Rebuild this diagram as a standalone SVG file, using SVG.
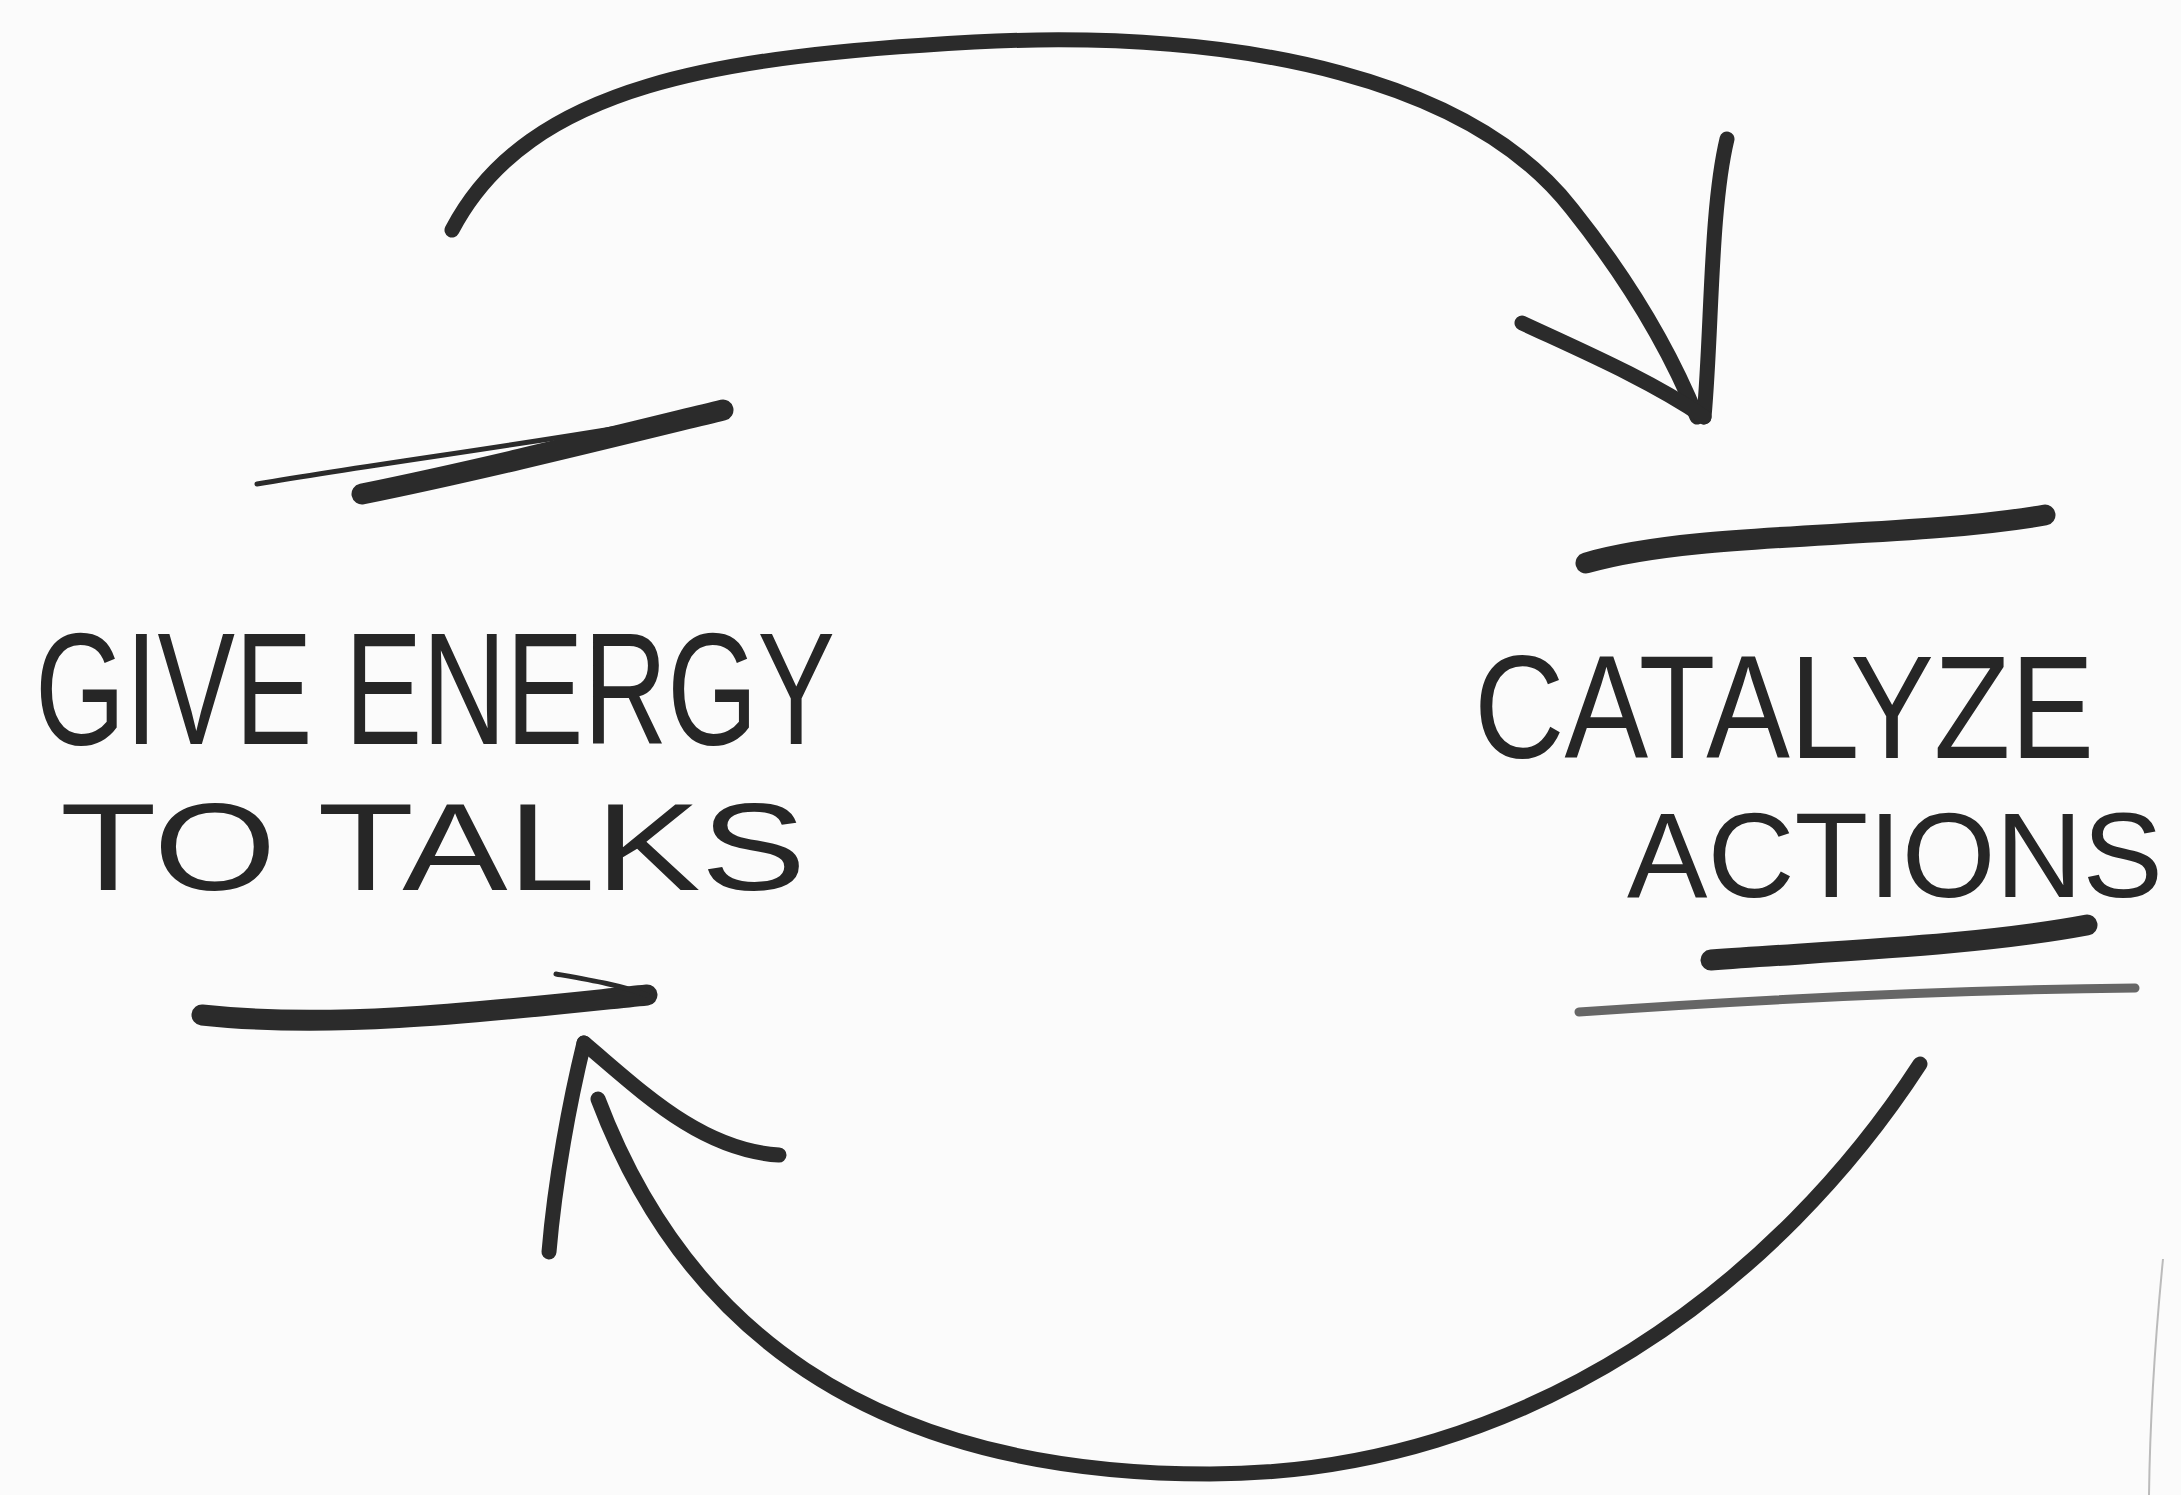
<svg xmlns="http://www.w3.org/2000/svg" width="2181" height="1495" viewBox="0 0 2181 1495">
<style>
.ink{fill:none;stroke:#2b2b2b;stroke-linecap:round;stroke-linejoin:round}
.arc{stroke-width:15}
.bar{stroke-width:21}
.thin{stroke-width:5}
.gray{fill:none;stroke:#666;stroke-linecap:round;stroke-width:9}
.lbl{font-family:"Liberation Sans",Arial,sans-serif;fill:#262626;font-weight:normal}
</style>
<rect width="2181" height="1495" fill="#fbfbfb"/>
<g id="connectors">
<path class="ink arc" d="M452,230 C529,83 723,56 974,42 C1252,28 1474,83 1572,209 C1627,278 1669,348 1697,417"/>
<path class="ink arc" d="M1727,139 C1710,210 1712,330 1704,417"/>
<path class="ink arc" d="M1522,323 C1580,350 1650,380 1704,417"/>
<path class="ink arc" d="M1920,1064 C1780,1280 1530,1474 1210,1474 C862,1474 682,1321 598,1099"/>
<path class="ink arc" d="M549,1252 C555,1180 570,1100 584,1043"/>
<path class="ink arc" d="M584,1043 C640,1090 700,1150 779,1155"/>
<path fill="none" stroke="#bbb" stroke-width="2" d="M2163,1259 C2155,1340 2150,1420 2149,1495"/>
</g>
<g id="node-give-energy">
<path class="ink thin" d="M257,484 C400,460 560,440 723,410"/>
<path class="ink bar" d="M362,494 C480,470 600,440 723,410"/>
<text class="lbl" transform="translate(35,744) scale(1,1.38)" x="0" y="0" font-size="116" textLength="800" lengthAdjust="spacingAndGlyphs">GIVE ENERGY</text>
<text class="lbl" transform="translate(60,890) scale(1,1.0)" x="0" y="0" font-size="125" textLength="746" lengthAdjust="spacingAndGlyphs">TO TALKS</text>
<path class="ink bar" d="M202,1015 C340,1030 500,1010 647,995"/>
<path class="ink thin" d="M556,974 C590,980 620,985 647,995"/>
</g>
<g id="node-catalyze-action">
<path class="ink bar" d="M1586,563 C1700,530 1900,540 2045,515"/>
<text class="lbl" transform="translate(1474,758) scale(1,1.17)" x="0" y="0" font-size="125" textLength="620" lengthAdjust="spacingAndGlyphs">CATALYZE</text>
<text class="lbl" transform="translate(1627,897)" x="0" y="0" font-size="120" textLength="536" lengthAdjust="spacingAndGlyphs">ACTIONS</text>
<path class="ink bar" d="M1711,960 C1850,950 1980,945 2087,925"/>
<path class="gray" d="M1579,1012 C1750,1000 1950,990 2135,988"/>
</g>
</svg>
